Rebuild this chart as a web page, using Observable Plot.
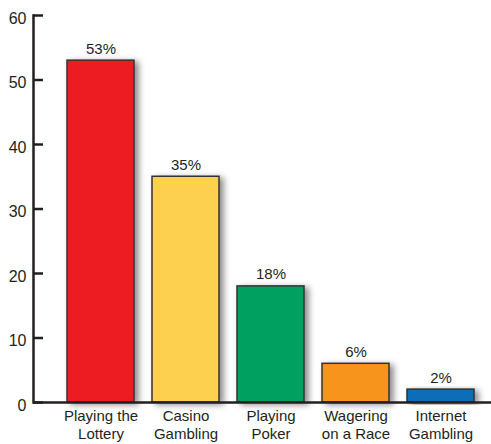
<!DOCTYPE html>
<html><head><meta charset="utf-8">
<script src="https://cdn.jsdelivr.net/npm/d3@7"></script>
<script src="https://cdn.jsdelivr.net/npm/@observablehq/plot@0.6"></script>
<style>body{margin:0;background:#fff}</style>
</head><body><div id="chart"></div>
<script>
const categories = ["Playing the\nLottery","Casino\nGambling","Playing\nPoker","Wagering\non a Race","Internet\nGambling"];
const values = [53,35,18,6,2];
const labels = ["53%","35%","18%","6%","2%"];
const colors = ["#ed1c24","#fdd04f","#00a160","#f7941d","#0b6db7"];
const yTicks = [0,10,20,30,40,50,60];
const data = categories.map((c,i)=>({category:c,value:values[i],label:labels[i]}));
const ink = "#231f20";
const plot = Plot.plot({
  width:491, height:444, marginTop:15, marginBottom:42, marginLeft:33, marginRight:0,
  style:{fontFamily:"'Liberation Sans', Arial, sans-serif", fontSize:"15px", color: ink, background:"#fff", overflow:"visible"},
  x:{domain:categories, paddingInner:0.212, paddingOuter:0.3, align:0.667, label:null},
  y:{domain:[0,60], label:null},
  color:{domain:categories, range:colors},
  marks:[
    Plot.barY(data,{x:"category", y:"value", fill:"category", stroke:"#333", strokeWidth:1.5}),
    Plot.text(data, {x:"category", y:"value", text:"label", lineAnchor:"bottom", dy:-7, fill:ink, fontSize:15}),
    Plot.ruleY([0],{stroke:ink, strokeWidth:2.5}),
    Plot.axisY(yTicks, {tickSize:0, tickPadding:7, fontSize:16, dy:3, label:null}),
    Plot.axisY(yTicks, {tickSize:-10, tickFormat:()=>"", stroke:ink, strokeWidth:2.5, label:null}),
    Plot.frame({anchor:"left", stroke:ink, strokeWidth:2.5}),
    Plot.axisX({tickSize:0, tickPadding:6, lineHeight:1.2, fontSize:15, label:null})
  ]
});
const ns = "http://www.w3.org/2000/svg";
const defs = document.createElementNS(ns,"defs");
defs.innerHTML = '<filter id="shadow" x="-20%" y="-20%" width="150%" height="140%"><feDropShadow dx="4" dy="2" stdDeviation="3" flood-color="#000" flood-opacity="0.45"/></filter>';
plot.insertBefore(defs, plot.firstChild);
plot.querySelectorAll('g[aria-label="bar"] rect').forEach(r=>r.setAttribute("filter","url(#shadow)"));
document.getElementById("chart").appendChild(plot);
</script>
</body></html>
